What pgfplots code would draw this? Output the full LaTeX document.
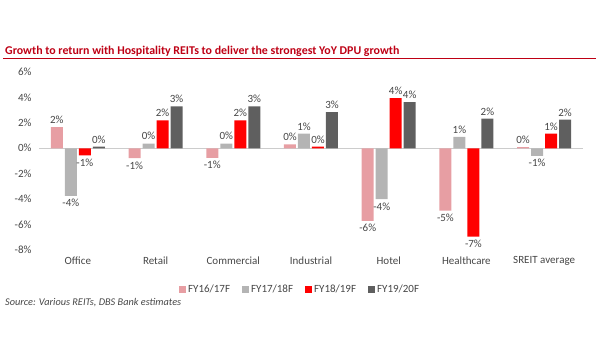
\documentclass[border=0pt]{standalone}
\usepackage{pgfplots}
\pgfplotsset{compat=1.18}
\usepackage{fontspec}
\setmainfont{Carlito}
\definecolor{cA}{RGB}{231,158,163}
\definecolor{cB}{RGB}{180,180,180}
\definecolor{cC}{RGB}{255,0,0}
\definecolor{cD}{RGB}{95,95,95}
\definecolor{titred}{RGB}{190,0,20}
\definecolor{txt}{RGB}{70,70,70}
\begin{document}
\begin{tikzpicture}
\useasboundingbox (0,0) rectangle (600bp,359bp);
\node[anchor=base west, inner sep=0pt, font=\bfseries\fontsize{11.9bp}{13bp}\selectfont, text=titred] at (5bp,304bp) {Growth to return with Hospitality REITs to deliver the strongest YoY DPU growth};
\draw[titred, line width=1.5bp] (3bp,300.5bp) -- (596bp,300.5bp);
\node[anchor=base west, inner sep=0pt, font=\itshape\fontsize{10.3bp}{12bp}\selectfont, text=txt] at (5bp,53bp) {Source: Various REITs, DBS Bank estimates};
\begin{axis}[
  at={(39bp,109bp)}, anchor=south west,
  scale only axis, width=544bp, height=178bp,
  xmin=-0.5, xmax=6.5, ymin=-8, ymax=6,
  ybar=2bp, bar width=12bp,
  xtick={0,...,6},
  xticklabels={Office,Retail,Commercial,Industrial,Hotel,Healthcare,SREIT average},
  ytick={-8,-6,...,6},
  yticklabel={\pgfmathprintnumber{\tick}\%},
  /pgf/number format/assume math mode=true,
  axis line style={draw=none},
  major tick length=0pt,
  tick label style={font=\fontsize{11bp}{12bp}\selectfont, text=txt},
  xticklabel style={yshift=-3bp},
  yticklabel style={xshift=-4bp},
  extra y ticks={0}, extra y tick labels={},
  extra y tick style={grid=major, major grid style={draw=black!20, line width=0.8bp}},
  nodes near coords={\pgfmathprintnumber[fixed,precision=0]{\pgfplotspointmeta}\%},
  nodes near coords align=vertical,
  every node near coord/.append style={font=\fontsize{11bp}{12bp}\selectfont, text=txt, /pgf/number format/assume math mode=true},
  legend columns=4,
  legend style={at={(0.48,-0.22)}, anchor=center, draw=none, font=\fontsize{11bp}{12bp}\selectfont, text=txt, /tikz/every even column/.append style={column sep=10bp}},
  legend image code/.code={\fill[#1] (0bp,-3.5bp) rectangle (7bp,3.5bp);},
]
\addplot[fill=cA, draw=none] coordinates {(0,1.67) (1,-0.78) (2,-0.75) (3,0.30) (4,-5.7) (5,-4.9) (6,0.10)};
\addplot[fill=cB, draw=none] coordinates {(0,-3.74) (1,0.37) (2,0.37) (3,1.15) (4,-4.0) (5,0.89) (6,-0.60)};
\addplot[fill=cC, draw=none] coordinates {(0,-0.55) (1,2.2) (2,2.2) (3,0.13) (4,3.95) (5,-6.95) (6,1.15)};
\addplot[fill=cD, draw=none] coordinates {(0,0.13) (1,3.3) (2,3.3) (3,2.85) (4,3.63) (5,2.33) (6,2.25)};
\legend{FY16/17F,FY17/18F,FY18/19F,FY19/20F}
\end{axis}
\end{tikzpicture}
\end{document}
